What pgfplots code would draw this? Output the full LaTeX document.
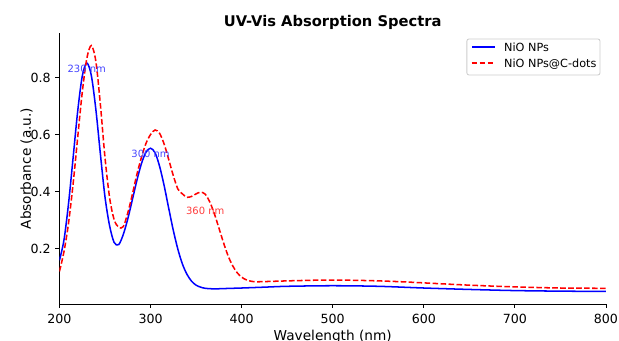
\documentclass[border=0pt]{standalone}
\usepackage{pgfplots}
\pgfplotsset{compat=1.18}
\usepackage{fontspec}
\setmainfont{DejaVu Sans}
\definecolor{annb}{RGB}{70,70,255}
\definecolor{annr}{RGB}{255,60,60}
\definecolor{legedge}{RGB}{205,205,205}
\tikzset{mpldash/.style={dash pattern=on 5.3pt off 2.3pt}}
\begin{document}
\begin{tikzpicture}
\useasboundingbox (-56.6pt,-35.2pt) rectangle (532.7pt,289.4pt);
\begin{axis}[
  name=ax,
  at={(0,0)}, anchor=south west,
  scale only axis,
  width=520.3pt, height=258.0pt,
  xmin=200, xmax=800, ymin=0.006, ymax=0.956,
  xtick={200,300,400,500,600,700,800},
  ytick={0.2,0.4,0.6,0.8},
  axis x line*=bottom, axis y line*=left,
  axis line style={-, line width=0.8pt},
  tick align=outside, major tick length=3.8pt,
  tick style={black, line width=0.8pt},
  /pgf/number format/assume math mode=true,
  xticklabel style={font=\fontsize{12}{14}\selectfont, /pgf/number format/1000 sep={}, yshift=-2pt},
  yticklabel style={font=\fontsize{12}{14}\selectfont, xshift=-1pt, /pgf/number format/fixed, /pgf/number format/precision=1, /pgf/number format/fixed zerofill},
]
\addplot[color=blue, line width=1.45pt, smooth] coordinates {
(200,0.159) (205,0.231) (210,0.359) (215,0.519) (220,0.681) (225,0.804)
(230,0.851) (235,0.807) (240,0.687) (245,0.530) (250,0.381) (255,0.281)
(260,0.222) (265,0.214) (270,0.249) (275,0.304) (280,0.371) (285,0.439)
(290,0.498) (295,0.538) (300,0.552) (305,0.536) (310,0.488) (315,0.420)
(320,0.341) (325,0.264) (330,0.198) (335,0.146) (340,0.110) (345,0.086)
(350,0.072) (355,0.065) (360,0.061) (370,0.059) (380,0.060) (400,0.062)
(425,0.065) (450,0.068) (500,0.070) (550,0.068) (600,0.062) (650,0.057)
(700,0.053) (750,0.051) (800,0.050)
};
\addplot[color=red, line width=1.45pt, smooth, mpldash] coordinates {
(200,0.120) (205,0.190) (210,0.290) (215,0.427) (220,0.589) (225,0.747)
(230,0.866) (235,0.912) (240,0.856) (245,0.703) (250,0.519) (255,0.380)
(260,0.302) (265,0.275) (270,0.277) (275,0.325) (280,0.390) (285,0.460)
(290,0.520) (295,0.569) (300,0.600) (305,0.616) (310,0.604) (315,0.566)
(320,0.512) (325,0.456) (330,0.409) (335,0.392) (340,0.380) (345,0.383)
(350,0.392) (355,0.398) (360,0.391) (365,0.364) (370,0.323) (375,0.273)
(380,0.222) (385,0.176) (390,0.141) (395,0.116) (400,0.100) (405,0.091)
(410,0.086) (415,0.084) (420,0.084) (430,0.085) (450,0.087) (475,0.089)
(500,0.090) (525,0.089) (550,0.087) (575,0.084) (600,0.080) (650,0.072)
(700,0.066) (750,0.062) (800,0.061)
};
\node[text=annb, font=\fontsize{9.5}{11}\selectfont] at (axis cs:230,0.83) {230 nm};
\node[text=annb, font=\fontsize{9.5}{11}\selectfont] at (axis cs:300,0.531) {300 nm};
\node[text=annr, font=\fontsize{9.5}{11}\selectfont] at (axis cs:360,0.333) {360 nm};
\end{axis}
% legend
\filldraw[draw=legedge, fill=white, rounded corners=2pt, line width=0.8pt]
  ([xshift=-132.4pt,yshift=-40pt]ax.north east) rectangle ([xshift=-5.7pt,yshift=-5.7pt]ax.north east);
\fill[blue] ([xshift=-127.9pt,yshift=-14.3pt]ax.north east) rectangle ++(22.2pt,1.45pt);
\draw[draw=red, line width=1.45pt, mpldash] ([xshift=-127.9pt,yshift=-28.8pt]ax.north east) -- ++(22.2pt,0pt);
\node[anchor=base west, inner sep=0pt, font=\fontsize{10.7}{13}\selectfont] at ([xshift=-97.1pt,yshift=-17.5pt]ax.north east) {NiO NPs};
\node[anchor=base west, inner sep=0pt, font=\fontsize{10.7}{13}\selectfont] at ([xshift=-97.1pt,yshift=-32.7pt]ax.north east) {NiO NPs@C-dots};
% titles
\node[anchor=base, font=\fontsize{14}{16}\selectfont\bfseries] at ([yshift=6.0pt]ax.north) {UV-Vis Absorption Spectra};
\node[anchor=base, font=\fontsize{13}{15}\selectfont] at ([yshift=-34.9pt]ax.south) {Wavelength (nm)};
\node[rotate=90, anchor=base, font=\fontsize{13}{15}\selectfont] at ([xshift=-27.3pt]ax.west) {Absorbance (a.u.)};
\end{tikzpicture}
\end{document}
